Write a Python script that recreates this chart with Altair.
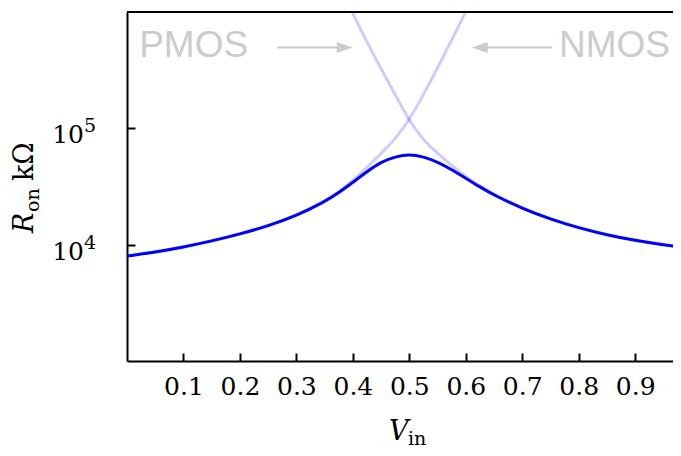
import altair as alt
import pandas as pd

# ---- data ----
vin = [0.0, 0.05, 0.10, 0.15, 0.20, 0.25, 0.30, 0.35, 0.375, 0.40, 0.425, 0.45, 0.475,
       0.50, 0.525, 0.55, 0.575, 0.60, 0.625, 0.65, 0.70, 0.75, 0.80, 0.85, 0.90, 0.95, 0.98]
ron_total = [7980, 8630, 9530, 10740, 12330, 14490, 17730, 23360, 27930, 34360, 42510, 51400, 57020,
             60050, 57020, 51400, 44260, 37240, 31330, 26670, 20460, 16540, 13920, 12120, 10860, 9970, 9530]

pmos_vin = [0.35, 0.375, 0.40, 0.425, 0.45, 0.475, 0.50, 0.525, 0.55, 0.575, 0.60, 0.625,
            0.65, 0.70, 0.75, 0.80, 0.85, 0.90, 0.95, 0.98]
pmos_r = [3.2e6, 1.72e6, 9.7e5, 5.5e5, 3.24e5, 1.95e5, 1.16e5, 7.9e4, 6.09e4, 4.78e4, 3.85e4, 3.18e4,
          2.68e4, 2.052e4, 1.658e4, 1.395e4, 1.214e4, 1.088e4, 9990, 9550]

nmos_vin = [0.0, 0.05, 0.10, 0.15, 0.20, 0.25, 0.30, 0.35, 0.375, 0.40, 0.425, 0.45, 0.475,
            0.50, 0.525, 0.55, 0.575, 0.60, 0.625]
nmos_r = [8000, 8660, 9560, 10780, 12380, 14550, 17800, 23530, 28370, 35580, 46030, 61090, 80580,
          118000, 1.95e5, 3.3e5, 5.75e5, 1.0e6, 1.78e6]

x_ticks = [0.1, 0.2, 0.3, 0.4, 0.5, 0.6, 0.7, 0.8, 0.9]
y_ticks = [1e4, 1e5]
y_tick_base = ["10", "10"]
y_tick_exp = ["4", "5"]

ann_labels = ["PMOS", "NMOS"]
ann_x = [0.0215, 0.765]
arrow_from = [0.2657, 0.753]
arrow_to = [0.3856, 0.6247]
arrow_shape = ["M-1,-0.69L1,0L-1,0.69Z", "M1,-0.69L-1,0L1,0.69Z"]

# ---- layout ----
W, H = 546, 349
SERIF = "DejaVu Serif"
GRAY = "#cccccc"
INWARD = {"expr": "-8"}

xscale = alt.Scale(domain=[0, 0.967], nice=False, zero=False)
yscale = alt.Scale(type="log", domain=[1000, 1e6], nice=False)

XAX = alt.Axis(values=x_ticks, format=".1f", ticks=True, tickSize=INWARD, tickWidth=2,
               tickColor="black", grid=False,
               domainColor="black", domainWidth=2, labelFont=SERIF,
               labelFontSize=25, labelColor="black", labelPadding=41,
               labelBaseline="alphabetic", labelFlush=False, title=None)
YAX = alt.Axis(values=y_ticks, labels=False, ticks=True, tickSize=INWARD, tickWidth=2,
               tickColor="black", grid=False,
               domainColor="black", domainWidth=2, title=None)


def X(field):
    return alt.X(field, scale=xscale, axis=XAX)


def Y(field):
    return alt.Y(field, scale=yscale, axis=YAX)


total_df = pd.DataFrame({"vin": vin, "r": ron_total})
light_df = pd.concat([
    pd.DataFrame({"vin": pmos_vin, "r": pmos_r, "series": "PMOS"}),
    pd.DataFrame({"vin": nmos_vin, "r": nmos_r, "series": "NMOS"}),
])

light = alt.Chart(light_df).mark_line(
    clip=True, color="#0000ff", opacity=0.2, strokeWidth=3, interpolate="basis"
).encode(x=X("vin:Q"), y=Y("r:Q"), detail="series:N")

main = alt.Chart(total_df).mark_line(
    clip=True, color="#0000ff", strokeWidth=3, interpolate="basis"
).encode(x=X("vin:Q"), y=Y("r:Q"))

top_rule = alt.Chart(pd.DataFrame({"k": [0]})).mark_rule(color="black", strokeWidth=2).encode(
    y=alt.value(0), x=alt.value(0), x2=alt.value(W)
)

ydf = pd.DataFrame({"r": y_ticks, "base": y_tick_base, "exp": y_tick_exp})
ylab_base = alt.Chart(ydf).mark_text(
    align="right", baseline="alphabetic", font=SERIF, fontSize=25, color="black", dy=15
).encode(y=Y("r:Q"), x=alt.value(-43), text="base:N")
ylab_exp = alt.Chart(ydf).mark_text(
    align="left", baseline="alphabetic", font=SERIF, fontSize=19, color="black", dy=4
).encode(y=Y("r:Q"), x=alt.value(-43), text="exp:N")

ann_df = pd.DataFrame({"vin": ann_x, "label": ann_labels})
ann = alt.Chart(ann_df).mark_text(
    align="left", baseline="alphabetic", font="Liberation Sans", fontSize=37, color=GRAY
).encode(x=X("vin:Q"), y=alt.value(45), text="label:N")

arr_df = pd.DataFrame({"vin": arrow_from, "vin2": arrow_to, "shape": arrow_shape})
arr_line = alt.Chart(arr_df).mark_rule(color=GRAY, strokeWidth=2).encode(
    x=X("vin:Q"), x2="vin2:Q", y=alt.value(35.5)
)
arr_head = alt.Chart(arr_df).mark_point(filled=True, color=GRAY, opacity=1, size=256).encode(
    x=X("vin2:Q"), y=alt.value(35.5),
    shape=alt.Shape("shape:N", scale=None),
)

one = pd.DataFrame({"k": [0]})
t_R = alt.Chart(one).mark_text(
    text="R", font=SERIF, fontStyle="italic", fontSize=27, angle=270,
    align="left", baseline="alphabetic", color="black"
).encode(x=alt.value(-94), y=alt.value(221))
t_on = alt.Chart(one).mark_text(
    text="on", font=SERIF, fontSize=19, angle=270,
    align="left", baseline="alphabetic", color="black"
).encode(x=alt.value(-88), y=alt.value(200))
t_k = alt.Chart(one).mark_text(
    text="kΩ", font=SERIF, fontSize=27, angle=270,
    align="left", baseline="alphabetic", color="black"
).encode(x=alt.value(-94), y=alt.value(169))
t_V = alt.Chart(one).mark_text(
    text="V", font=SERIF, fontStyle="italic", fontSize=27,
    align="left", baseline="alphabetic", color="black"
).encode(x=alt.value(262), y=alt.value(428))
t_in = alt.Chart(one).mark_text(
    text="in", font=SERIF, fontSize=19,
    align="left", baseline="alphabetic", color="black"
).encode(x=alt.value(281), y=alt.value(433))

chart = alt.layer(
    light, main, top_rule, ylab_base, ylab_exp, arr_line, arr_head, ann,
    t_R, t_on, t_k, t_V, t_in
).properties(
    width=W, height=H,
    padding={"left": 119, "top": 4, "right": 0, "bottom": 87},
    autosize=alt.AutoSizeParams(type="none"),
).configure_view(stroke=None)

chart.save("out.html", embed_options={"renderer": "svg", "actions": False})
